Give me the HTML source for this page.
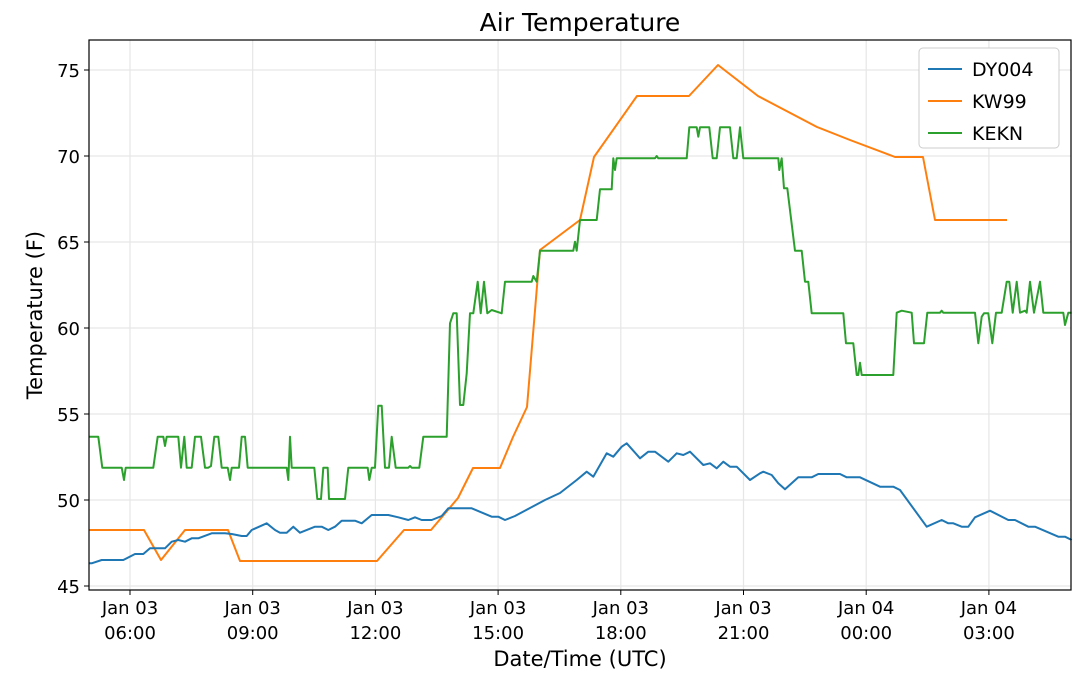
<!DOCTYPE html>
<html><head><meta charset="utf-8"><style>
html,body{margin:0;padding:0;background:#fff;}
svg text{font-family:"DejaVu Sans","Liberation Sans",sans-serif;fill:#000;}
</style></head><body>
<svg id="s" width="1080" height="677" viewBox="0 0 1080 677" xmlns="http://www.w3.org/2000/svg">
<rect width="1080" height="677" fill="#fff"/>
<g id="grid" stroke="#e6e6e6" stroke-width="1.2"></g>
<g id="lines" fill="none" stroke-width="2" stroke-linejoin="round"></g>
<rect x="89" y="40" width="982" height="550" fill="none" stroke="#000" stroke-width="1.2"/>
<g id="ticks"></g>
<text x="580" y="31" font-size="25" text-anchor="middle">Air Temperature</text>
<text x="580" y="666" font-size="21" text-anchor="middle">Date/Time (UTC)</text>
<text transform="translate(42,315) rotate(-90)" font-size="21" text-anchor="middle">Temperature (F)</text>
<g>
<rect x="919" y="48" width="140" height="100" rx="4" fill="#fff" stroke="#ccc"/>
<line x1="928" y1="69" x2="962" y2="69" stroke="#1f77b4" stroke-width="2"/>
<line x1="928" y1="101" x2="962" y2="101" stroke="#ff7f0e" stroke-width="2"/>
<line x1="928" y1="133" x2="962" y2="133" stroke="#2ca02c" stroke-width="2"/>
<text x="972" y="76" font-size="19">DY004</text>
<text x="972" y="108" font-size="19">KW99</text>
<text x="972" y="140" font-size="19">KEKN</text>
</g>
</svg>
<script>
var NS="http://www.w3.org/2000/svg";
function el(p,t,a){var e=document.createElementNS(NS,t);for(var k in a)e.setAttribute(k,a[k]);p.appendChild(e);return e;}
var grid=document.getElementById('grid'),ticks=document.getElementById('ticks'),lines=document.getElementById('lines');
var ys=[45,50,55,60,65,70,75];
ys.forEach(function(v){var y=586-(v-45)*17.2;
 el(grid,'line',{x1:89,x2:1071,y1:y,y2:y});
 el(ticks,'line',{x1:84,x2:89,y1:y,y2:y,stroke:'#000'});
 var t=el(ticks,'text',{x:80,y:y+7,'font-size':18,'text-anchor':'end'});t.textContent=v;});
var xl=[["Jan 03","06:00"],["Jan 03","09:00"],["Jan 03","12:00"],["Jan 03","15:00"],["Jan 03","18:00"],["Jan 03","21:00"],["Jan 04","00:00"],["Jan 04","03:00"]];
xl.forEach(function(l,i){var x=130+i*122.7;
 el(grid,'line',{x1:x,x2:x,y1:40,y2:590});
 el(ticks,'line',{x1:x,x2:x,y1:590,y2:595,stroke:'#000'});
 var t=el(ticks,'text',{x:x,y:614,'font-size':18,'text-anchor':'middle'});t.textContent=l[0];
 t=el(ticks,'text',{x:x,y:639,'font-size':18,'text-anchor':'middle'});t.textContent=l[1];});
function z(arr,ox,oy){var r=[];for(var i=0;i<arr.length;i+=2)r.push([ox+arr[i]/3,oy+arr[i+1]/3]);return r;}
function draw(pts,c){el(lines,'polyline',{points:pts.map(function(p){return p[0].toFixed(1)+','+p[1].toFixed(1)}).join(' '),stroke:c});}
// Orange
draw([[89,530],[144,530],[161,560],[185,530],[228,530],[240,561],[377,561],[404,530],[431,530],[458,498],[473,468],[500,468],[513,437],[527,407],[540,250],[580,220],[594,157],[637,96],[689,96],[718,65],[758,96],[817,127],[850,140],[895,157],[923,157],[935,220],[1007,220]],'#ff7f0e');
// Green
var g=z([0,170,40,170,52,263,110,263,117,300,122,263,205,263,218,170,235,170,240,198,245,170,280,170,288,263,298,170,305,263,320,263,330,170,348,170,360,263,370,263,378,258,388,170,400,170,410,263,428,263,435,300,440,263,462,263,470,170,480,170,488,263,605,263,610,300,615,170,620,263,688,263,697,357,708,357,715,263,728,263,732,357,780,357,790,263,848,263,853,300,860,263,870,263,880,77,890,77,900,263,912,263,920,170,932,263,970,263,975,258,980,263,1003,263,1015,170,1085,170],85,380);
g[0][0]=89;
g=g.concat(z([50,1130,60,790,70,760,80,760,90,1035,100,1035,110,940,120,760,130,760,143,665,152,760,162,665,172,760,185,750,215,760,225,665,305,665,310,648,320,665,330,572,430,572,435,545,440,572,450,480,500,480,510,388,545,388,550,295,555,330,560,295,675,295,680,288,685,295,770,295,778,202,800,202,805,230,810,202,838,202,848,295,860,295,870,202,900,202,910,295,920,295,930,202,940,295,1045,295,1048,330,1055,295,1062,385,1072,385,1095,572,1115,572,1125,665,1135,665,1145,760,1240,760,1248,850],430,60));
g=g.concat(z([260,610,280,610,290,705,295,705,300,668,305,705,400,705,410,518,425,512,455,518,462,610,492,610,502,518,540,518,545,512,550,518,645,518,655,610,665,530,672,520,685,520,697,610,708,518,725,518,740,425,748,425,758,518,770,425,780,518,795,512,800,518,810,425,822,518,840,425,850,518,910,518,915,555,925,518,935,518],760,140));
draw(g,'#2ca02c');
// Blue
var b=z([0,550,20,550,50,540,115,540,150,522,175,522,195,505,240,505,260,485,280,480,300,485,320,475,340,475,380,460,420,460,440,462,470,468,485,468,500,450,545,430,570,450,585,458,605,458,625,440,645,458,690,440,710,440,730,450,750,440,770,422,810,422,830,430,860,405,910,405,940,412,970,420,990,412,1010,420,1040,420,1070,408,1090,385,1160,385,1220,410,1240,410,1260,420],85,380);
b[0][0]=89;
b=b.concat([[515,516],[530,508],[545,500],[560,493]]);
b=b.concat(z([440,1260,470,1235,490,1250,530,1180,550,1190,575,1160,590,1150,630,1195,655,1175,675,1175,715,1205,740,1180,760,1185,780,1175,820,1215,840,1210,860,1225,880,1205,900,1220,920,1220,960,1260],430,60));
b=b.concat(z([0,1000,10,995,35,1005,55,1030,75,1048,115,1012,155,1012,175,1002,240,1002,260,1012,300,1012,360,1040,400,1040,420,1050,500,1160,545,1140,565,1150,580,1150,605,1160,625,1160,645,1132,690,1112,745,1140,765,1140,805,1160,825,1160,895,1190,915,1190,935,1200],760,140));
draw(b,'#1f77b4');
</script>
</body></html>
